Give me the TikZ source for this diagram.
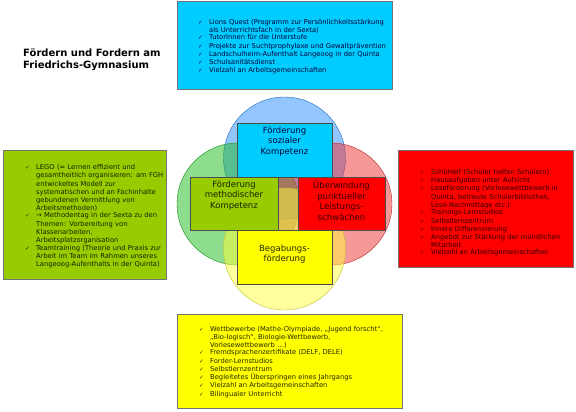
\documentclass[tikz,border=0pt]{standalone}
\usepackage{fontspec}
\setmainfont{DejaVu Sans}
\usepackage{tikz}
\usetikzlibrary{positioning}
\definecolor{boxblue}{RGB}{0,204,255}
\definecolor{boxgreen}{RGB}{153,204,0}
\definecolor{boxred}{RGB}{255,0,0}
\definecolor{boxyellow}{RGB}{255,255,0}
\definecolor{ringblue}{RGB}{40,140,255}
\definecolor{ringgreen}{RGB}{30,185,30}
\definecolor{ringred}{RGB}{240,50,50}
\definecolor{ringyellow}{RGB}{255,255,60}
\newcommand{\chkitem}[1]{\par\noindent\makebox[11pt][l]{\fontsize{5.5}{5.5}\selectfont ✓}%
  \parbox[t]{\dimexpr\linewidth-11pt\relax}{\raggedright #1}}

\begin{document}
\begin{tikzpicture}[x=1pt,y=-1pt,
  panel/.style={draw=black!55,line width=0.6pt,anchor=north west,inner sep=0pt},
  listtext/.style={anchor=west,align=left,inner sep=0pt,font=\fontsize{6.75}{8.25}\selectfont},
  ring/.style={draw=#1!75!black,fill=#1,fill opacity=0.5,line width=0.4pt},
  tile/.style={draw=black!70,line width=0.6pt,inner sep=0pt},
  tilelabel/.style={anchor=north,align=center,inner sep=0pt,font=\fontsize{8.5}{10.5}\selectfont}]
  \useasboundingbox (0,0) rectangle (576,412);
  % title
  \node[anchor=north west,align=left,inner sep=0pt,font=\bfseries\fontsize{10}{11.5}\selectfont] (title) at (23,49) {Fördern und Fordern am\\Friedrichs-Gymnasium};
  % four rings
  \draw[ring=ringblue] (284.5,158) circle (61);
  \draw[ring=ringgreen] (238,204) circle (61);
  \draw[ring=ringred] (331,204) circle (61);
  \draw[ring=ringyellow] (284.5,249) circle (61);
  % tiles in the middle
  \node[tile,fill=boxblue,minimum width=95,minimum height=54] (socialTile) at (284.5,150) {};
  \node[tilelabel,text=black!80!blue] (socialLabel) at ([yshift=-4]socialTile.north) {Förderung\\sozialer\\Kompetenz};
  \node[tile,fill=boxgreen,minimum width=88,minimum height=53] (methodTile) at (234,203.5) {};
  \node[tilelabel,text=black!85!boxgreen] (methodLabel) at ([yshift=-4]methodTile.north) {Förderung\\methodischer\\Kompetenz};
  \node[tile,fill=boxred,minimum width=87,minimum height=53] (weakTile) at (341.5,203.5) {};
  \node[tilelabel,text=black!80!boxred] (weakLabel) at ([yshift=-4]weakTile.north) {Überwindung\\punktueller\\Leistungs-\\schwächen};
  \node[tile,fill=boxyellow,minimum width=95,minimum height=54] (giftTile) at (284.5,257) {};
  \node[tilelabel,text=black!85!boxyellow] (giftLabel) at ([yshift=-15]giftTile.north) {Begabungs-\\förderung};
  % panel social (top)
  \node[panel,fill=boxblue,minimum width=215,minimum height=88] (socialBox) at (177,1) {};
  \node[listtext,text width=210,text=black!80!blue] (socialText) at ([xshift=21]socialBox.west) {%
    \chkitem{Lions Quest (Programm zur Persönlichkeitsstärkung\\als Unterrichtsfach in der Sexta)}
    \chkitem{TutorInnen für die Unterstufe}
    \chkitem{Projekte zur Suchtprophylaxe und Gewaltprävention}
    \chkitem{Landschulheim-Aufenthalt Langeoog in der Quinta}
    \chkitem{Schulsanitätsdienst}
    \chkitem{Vielzahl an Arbeitsgemeinschaften}};
  % panel method (left)
  \node[panel,fill=boxgreen,minimum width=163,minimum height=129] (methodBox) at (3,150) {};
  \node[listtext,text width=170,text=black!85!boxgreen] (methodText) at ([xshift=22]methodBox.west) {%
    \chkitem{LEGO (= Lernen effizient und\\gesamtheitlich organisieren: am FGH\\entwickeltes Modell zur\\systematischen und an Fachinhalte\\gebundenen Vermittlung von\\Arbeitsmethoden)}
    \chkitem{→ Methodentag in der Sexta zu den\\Themen: Vorbereitung von\\Klassenarbeiten,\\Arbeitsplatzorganisation}
    \chkitem{Teamtraining (Theorie und Praxis zur\\Arbeit im Team im Rahmen unseres\\Langeoog-Aufenthalts in der Quinta)}};
  % panel weakness (right)
  \node[panel,fill=boxred,minimum width=175,minimum height=117] (weakBox) at (398,150) {};
  \node[listtext,text width=170,text=black!82!boxred] (weakText) at ([xshift=22,yshift=-2]weakBox.west) {%
    \chkitem{SchüHelf (Schüler helfen Schülern)}
    \chkitem{Hausaufgaben unter Aufsicht}
    \chkitem{Leseförderung (Vorlesewettbewerb in\\Quinta, betreute Schülerbibliothek,\\Lese-Nachmittage etc.)}
    \chkitem{Trainings-Lernstudios}
    \chkitem{Selbstlernzentrum}
    \chkitem{Innere Differenzierung}
    \chkitem{Angebot zur Stärkung der mündlichen\\Mitarbeit}
    \chkitem{Vielzahl an Arbeitsgemeinschaften}};
  % panel gifted (bottom)
  \node[panel,fill=boxyellow,minimum width=225,minimum height=94] (giftBox) at (177,314) {};
  \node[listtext,text width=215,text=black!85!boxyellow] (giftText) at ([xshift=22,yshift=1]giftBox.west) {%
    \chkitem{Wettbewerbe (Mathe-Olympiade, „Jugend forscht“,\\„Bio-logisch“, Biologie-Wettbewerb,\\Vorlesewettbewerb …)}
    \chkitem{Fremdsprachenzertifikate (DELF, DELE)}
    \chkitem{Forder-Lernstudios}
    \chkitem{Selbstlernzentrum}
    \chkitem{Begleitetes Überspringen eines Jahrgangs}
    \chkitem{Vielzahl an Arbeitsgemeinschaften}
    \chkitem{Bilingualer Unterricht}};
\end{tikzpicture}
\end{document}
